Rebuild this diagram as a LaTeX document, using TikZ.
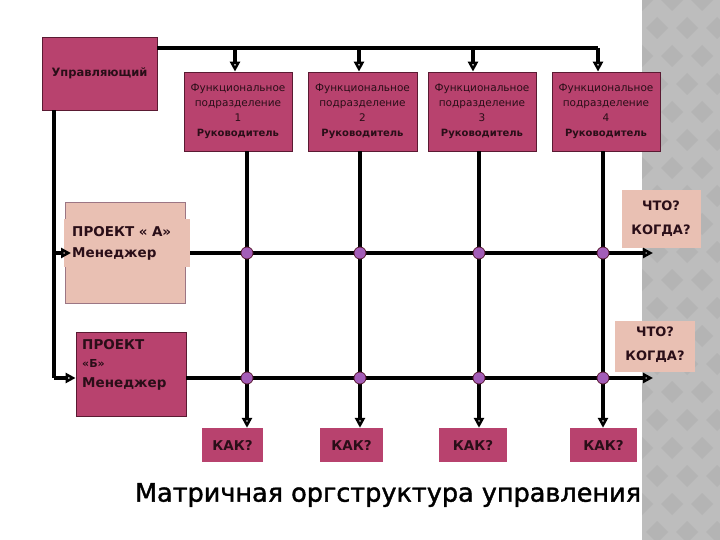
\documentclass[tikz,border=0pt]{standalone}
\usepackage{fontspec}
\setmainfont{DejaVu Sans}
\newfontfamily\titlefont[FakeBold=1.5]{DejaVu Sans}
\usetikzlibrary{arrows.meta}
\definecolor{crim}{HTML}{B8426E}
\definecolor{crimline}{HTML}{5A1A32}
\definecolor{salmon}{HTML}{E9C0B3}
\definecolor{dotfill}{HTML}{A35DB8}
\definecolor{txt}{HTML}{2A0E18}
\definecolor{stripA}{HTML}{BDBDBD}
\definecolor{stripB}{HTML}{B4B4B4}
\tikzset{
  cbox/.style={draw=crimline, line width=0.8pt, fill=crim, text=txt, inner sep=0pt, align=center},
  sbox/.style={fill=salmon, text=txt, inner sep=0pt},
  fbox/.style={cbox, minimum height=79pt, font=\fontsize{10.5}{15}\selectfont},
  kbox/.style={fill=crim, text=txt, inner sep=0pt, minimum height=34pt, font=\bfseries\fontsize{13.5}{14}\selectfont},
  qbox/.style={sbox, align=center, font=\bfseries\fontsize{13}{24}\selectfont},
  line/.style={line width=3.2pt, black},
  arr/.style={line width=3.2pt, black, -{Triangle[open, length=10pt, width=10pt, line width=2.6pt]}},
  jdot/.style={circle, draw=crimline, line width=0.8pt, fill=dotfill, minimum size=12pt, inner sep=0pt}
}
\begin{document}
\begin{tikzpicture}[x=1pt,y=-1pt]
\useasboundingbox (0,0) rectangle (720,540);
% textured strip
\fill[stripA] (642,0) rectangle (720,540);
\begin{scope}
\clip (642,0) rectangle (720,540);
\foreach \i in {0,...,4}{
  \foreach \j in {0,...,20}{
    \pgfmathsetmacro\cx{642+\i*30+mod(\j,2)*15}
    \pgfmathsetmacro\cy{\j*28}
    \fill[stripB] (\cx,\cy-11) -- (\cx+11,\cy) -- (\cx,\cy+11) -- (\cx-11,\cy) -- cycle;
  }
}
\end{scope}

% manager
\node[cbox, minimum width=115pt, minimum height=73pt, font=\bfseries\fontsize{11.5}{14}\selectfont] (mgr) at (99.5,73.5) {Управляющий};

% functional units
\node[fbox, minimum width=108pt] (f1) at (238,111.5) {Функциональное\\подразделение\\1\\\textbf{\fontsize{10}{15}\selectfont Руководитель}};
\node[fbox, minimum width=109pt] (f2) at (362.5,111.5) {Функциональное\\подразделение\\2\\\textbf{\fontsize{10}{15}\selectfont Руководитель}};
\node[fbox, minimum width=108pt] (f3) at (482,111.5) {Функциональное\\подразделение\\3\\\textbf{\fontsize{10}{15}\selectfont Руководитель}};
\node[fbox, minimum width=108pt] (f4) at (606,111.5) {Функциональное\\подразделение\\4\\\textbf{\fontsize{10}{15}\selectfont Руководитель}};

% projects
\node[sbox, draw=crimline!60, line width=0.6pt, minimum width=120pt, minimum height=101pt] (pA) at (125,252.5) {};
\node[sbox, anchor=west, text width=110pt, minimum height=48pt, align=left, font=\bfseries\fontsize{13.5}{21}\selectfont, inner xsep=8pt] (pAt) at (64,243) {ПРОЕКТ « А»\\Менеджер};
\node[cbox, minimum width=110pt, minimum height=84pt] (pB) at (131,374) {};
\node[anchor=north west, text=txt, align=left, inner sep=0pt, font=\bfseries\fontsize{13.5}{19.5}\selectfont] (pBt) at (82,339) {ПРОЕКТ\\[-1pt]{\fontsize{11}{12}\selectfont «Б»}\\Менеджер};

% what / when
\node[qbox, minimum width=79pt, minimum height=58pt] (q1) at (661,219) {ЧТО?\\КОГДА?};
\node[qbox, minimum width=80pt, minimum height=51pt, text depth=6pt] (q2) at (655,346.5) {ЧТО?\\КОГДА?};

% how
\node[kbox, minimum width=61pt] (k1) at (232.5,445) {КАК?};
\node[kbox, minimum width=63pt] (k2) at (351.5,445) {КАК?};
\node[kbox, minimum width=68pt] (k3) at (473,445) {КАК?};
\node[kbox, minimum width=67pt] (k4) at (603.5,445) {КАК?};

% grid coordinates
\coordinate (cA) at (0,253);
\coordinate (cB) at (0,378);
\coordinate (v1) at (247,0);
\coordinate (v2) at (360,0);
\coordinate (v3) at (479,0);
\coordinate (v4) at (603,0);
\coordinate (bus) at (598,48);
\coordinate (endA) at (653,253);
\coordinate (endB) at (653,378);
\coordinate (lft) at (54,0);

% top bus
\draw[line] (mgr.east |- bus) -- (bus);
\draw[arr] ([xshift=-3pt]f1.north |- bus) -- ([xshift=-3pt]f1.north);
\draw[arr] ([xshift=-3.5pt]f2.north |- bus) -- ([xshift=-3.5pt]f2.north);
\draw[arr] ([xshift=-9pt]f3.north |- bus) -- ([xshift=-9pt]f3.north);
\draw[arr] (bus) -- (bus |- f4.north);

% left feed
\draw[line] (lft |- mgr.south) -- (lft |- cB);
\draw[arr] (lft |- cA) -- ([xshift=7pt]pAt.west |- cA);
\draw[arr] (lft |- cB) -- (pB.west |- cB);

% horizontal project lines
\draw[arr] (pAt.east |- cA) -- (endA);
\draw[arr] (pB.east |- cB) -- (endB);

% vertical unit lines
\draw[arr] (v1 |- f1.south) -- (v1 |- k1.north);
\draw[arr] (v2 |- f2.south) -- (v2 |- k2.north);
\draw[arr] (v3 |- f3.south) -- (v3 |- k3.north);
\draw[arr] (v4 |- f4.south) -- (v4 |- k4.north);

% junctions
\foreach \v in {v1,v2,v3,v4}{
  \node[jdot] (dA-\v) at (\v |- cA) {};
  \node[jdot] (dB-\v) at (\v |- cB) {};
}

% title
\node[text=black, font=\titlefont\fontsize{25.5}{28}\selectfont] (title) at (388,495) {Матричная оргструктура управления};
\end{tikzpicture}
\end{document}
